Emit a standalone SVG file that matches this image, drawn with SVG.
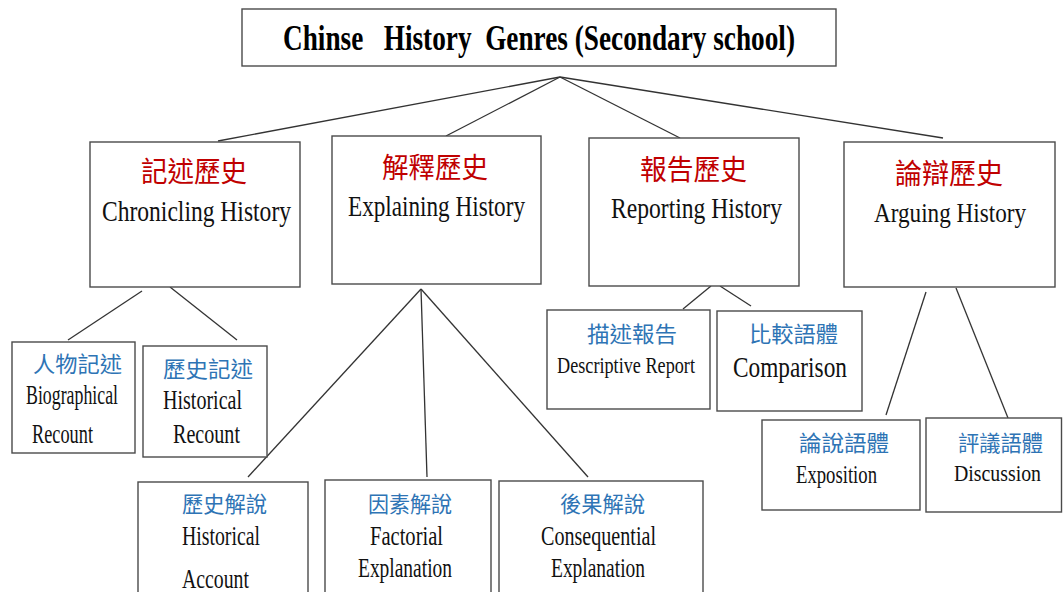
<svg xmlns="http://www.w3.org/2000/svg" width="1063" height="592" viewBox="0 0 1063 592">
<style>
.box{fill:#ffffff;stroke:#4a4a4a;stroke-width:1.4}
.ln{stroke:#333333;stroke-width:1.3;fill:none}
.en{font-family:"Liberation Serif","Times New Roman",serif;fill:#111111}
.t1{font-size:30px}
.t2{font-size:27px}
.cjk{font-family:"Noto Sans CJK TC","Noto Sans CJK SC",sans-serif}
.red{fill:#c00000;font-size:28px}
.blue{fill:#2e74b5;font-size:22px}
.title{font-family:"Liberation Serif","Times New Roman",serif;font-weight:bold;font-size:35px;fill:#000000;white-space:pre}
</style>
<rect width="1063" height="592" fill="#ffffff"/>
<g id="connectors">
<line class="ln" x1="560" y1="77" x2="218" y2="141"/>
<line class="ln" x1="560" y1="77" x2="446" y2="136"/>
<line class="ln" x1="560" y1="77" x2="680" y2="138"/>
<line class="ln" x1="560" y1="77" x2="943" y2="138"/>
<line class="ln" x1="142" y1="291" x2="68" y2="340"/>
<line class="ln" x1="170" y1="287" x2="237" y2="340"/>
<line class="ln" x1="421" y1="289" x2="248" y2="477"/>
<line class="ln" x1="421" y1="289" x2="427" y2="477"/>
<line class="ln" x1="421" y1="289" x2="588" y2="477"/>
<line class="ln" x1="711" y1="286" x2="683" y2="309"/>
<line class="ln" x1="720" y1="286" x2="751" y2="306"/>
<line class="ln" x1="926" y1="292" x2="886" y2="415"/>
<line class="ln" x1="956" y1="288" x2="1008" y2="418"/>
</g>
<g id="root">
<rect class="box" x="242" y="9" width="594" height="57"/>
<text class="title" x="283" y="50" textLength="512" lengthAdjust="spacingAndGlyphs" xml:space="preserve">Chinse   History  Genres (Secondary school)</text>
</g>
<g id="chronicling">
<rect class="box" x="90" y="142" width="210" height="145"/>
<text class="cjk red" x="141" y="182" textLength="106" lengthAdjust="spacingAndGlyphs">記述歷史</text>
<text class="en t1" x="102" y="221" textLength="189" lengthAdjust="spacingAndGlyphs">Chronicling History</text>
</g>
<g id="explaining">
<rect class="box" x="332" y="136" width="209" height="148"/>
<text class="cjk red" x="382" y="178" textLength="106" lengthAdjust="spacingAndGlyphs">解釋歷史</text>
<text class="en t1" x="348" y="216" textLength="177" lengthAdjust="spacingAndGlyphs">Explaining History</text>
</g>
<g id="reporting">
<rect class="box" x="589" y="138" width="210" height="148"/>
<text class="cjk red" x="640" y="180" textLength="107" lengthAdjust="spacingAndGlyphs">報告歷史</text>
<text class="en t1" x="611" y="218" textLength="171" lengthAdjust="spacingAndGlyphs">Reporting History</text>
</g>
<g id="arguing">
<rect class="box" x="844" y="142" width="211" height="145"/>
<text class="cjk red" x="895" y="184" textLength="108" lengthAdjust="spacingAndGlyphs">論辯歷史</text>
<text class="en" font-size="28" x="874" y="222" textLength="152" lengthAdjust="spacingAndGlyphs">Arguing History</text>
</g>
<g id="biographical-recount">
<rect class="box" x="12" y="342" width="123" height="111"/>
<text class="cjk blue" x="33" y="372" textLength="89" lengthAdjust="spacingAndGlyphs">人物記述</text>
<text class="en t2" x="26" y="404" textLength="92" lengthAdjust="spacingAndGlyphs">Biographical</text>
<text class="en t2" x="32" y="443" textLength="61" lengthAdjust="spacingAndGlyphs">Recount</text>
</g>
<g id="historical-recount">
<rect class="box" x="143" y="346" width="124" height="111"/>
<text class="cjk blue" x="163" y="377" textLength="90" lengthAdjust="spacingAndGlyphs">歷史記述</text>
<text class="en t2" x="163" y="409" textLength="79" lengthAdjust="spacingAndGlyphs">Historical</text>
<text class="en t2" x="173" y="443" textLength="67" lengthAdjust="spacingAndGlyphs">Recount</text>
</g>
<g id="historical-account">
<rect class="box" x="138" y="482" width="170" height="130"/>
<text class="cjk blue" x="182" y="512" textLength="85" lengthAdjust="spacingAndGlyphs">歷史解說</text>
<text class="en t2" x="182" y="545" textLength="78" lengthAdjust="spacingAndGlyphs">Historical</text>
<text class="en t2" x="182" y="588" textLength="67" lengthAdjust="spacingAndGlyphs">Account</text>
</g>
<g id="factorial-explanation">
<rect class="box" x="325" y="480" width="166" height="130"/>
<text class="cjk blue" x="368" y="512" textLength="84" lengthAdjust="spacingAndGlyphs">因素解說</text>
<text class="en t2" x="370" y="545" textLength="73" lengthAdjust="spacingAndGlyphs">Factorial</text>
<text class="en t2" x="358" y="577" textLength="94" lengthAdjust="spacingAndGlyphs">Explanation</text>
</g>
<g id="consequential-explanation">
<rect class="box" x="499" y="481" width="204" height="130"/>
<text class="cjk blue" x="560" y="512" textLength="85" lengthAdjust="spacingAndGlyphs">後果解說</text>
<text class="en t2" x="541" y="545" textLength="115" lengthAdjust="spacingAndGlyphs">Consequential</text>
<text class="en t2" x="551" y="577" textLength="94" lengthAdjust="spacingAndGlyphs">Explanation</text>
</g>
<g id="descriptive-report">
<rect class="box" x="547" y="310" width="163" height="99"/>
<text class="cjk blue" x="587" y="342" textLength="90" lengthAdjust="spacingAndGlyphs">描述報告</text>
<text class="en" font-size="23" x="557" y="373" textLength="138" lengthAdjust="spacingAndGlyphs">Descriptive Report</text>
</g>
<g id="comparison">
<rect class="box" x="717" y="311" width="145" height="100"/>
<text class="cjk blue" x="749" y="342" textLength="89" lengthAdjust="spacingAndGlyphs">比較語體</text>
<text class="en" font-size="29" x="733" y="377" textLength="114" lengthAdjust="spacingAndGlyphs">Comparison</text>
</g>
<g id="exposition">
<rect class="box" x="762" y="420" width="158" height="90"/>
<text class="cjk blue" x="799" y="451" textLength="90" lengthAdjust="spacingAndGlyphs">論說語體</text>
<text class="en" font-size="26" x="796" y="483" textLength="81" lengthAdjust="spacingAndGlyphs">Exposition</text>
</g>
<g id="discussion">
<rect class="box" x="926" y="418" width="135.5" height="94"/>
<text class="cjk blue" x="958" y="451" textLength="85" lengthAdjust="spacingAndGlyphs">評議語體</text>
<text class="en" font-size="24" x="954" y="481" textLength="87" lengthAdjust="spacingAndGlyphs">Discussion</text>
</g>
</svg>
